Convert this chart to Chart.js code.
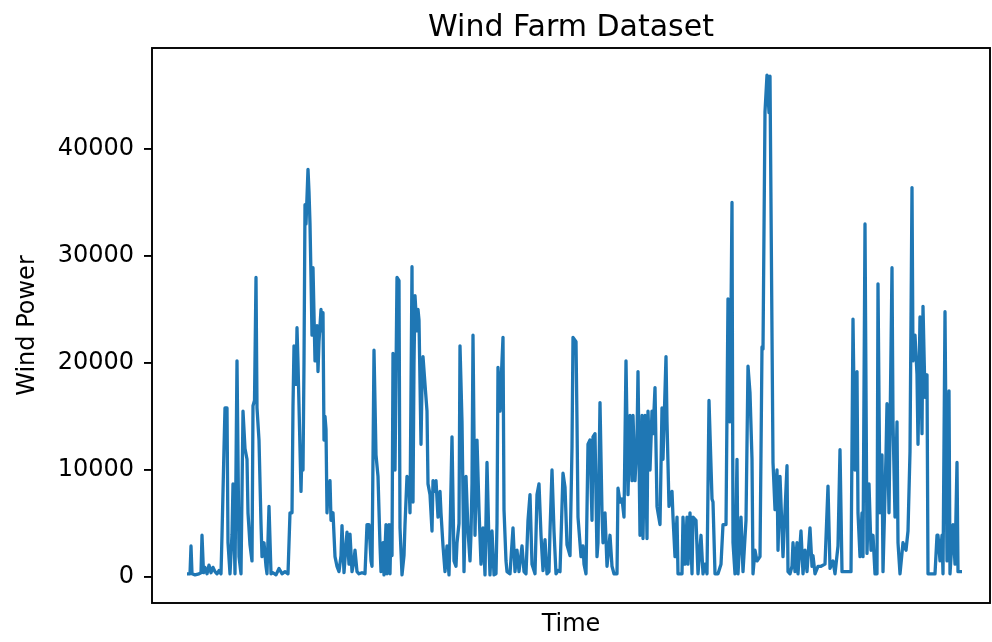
<!DOCTYPE html>
<html>
<head>
<meta charset="utf-8">
<script src="https://cdn.jsdelivr.net/npm/chart.js@4.4.0/dist/chart.umd.min.js"></script>
<style>
  html, body { margin: 0; padding: 0; background: #fff; }
</style>
</head>
<body>
<canvas id="windChart" width="992" height="642"></canvas>
<script>
// time step (hours from the start) and measured wind power
const timeSteps = [
  0, 3, 4, 5, 8, 12, 14, 15, 16.5, 18, 20, 22, 24, 26, 28, 30, 32, 34, 35, 37, 38, 40, 41, 43,
  45, 46, 48, 50, 52, 54, 56, 58, 60, 61, 63, 65, 66, 67.5, 69, 70, 72, 74, 75, 77, 79, 80, 82,
  84, 86, 89, 92, 95, 98, 101, 103, 105, 106, 107, 109, 110, 111, 112, 114, 115, 116, 117,
  118, 119, 120, 121, 122, 123, 124, 125, 126, 128, 129, 130, 131, 132, 134, 135, 136, 137, 138, 139, 140, 141, 143, 144,
  146, 148, 150, 152, 154, 155, 157, 159, 160, 162, 163, 165, 167, 168, 170, 172, 175, 178, 180,
  182, 184, 185, 187, 189, 191, 193, 194, 195, 196, 197, 199, 200, 202, 203, 204, 205, 206, 208, 210, 212,
  213, 215, 217, 218, 220, 222, 223, 225, 226, 227, 228, 230, 231, 232, 234, 235, 236, 238, 240, 241, 243, 245, 246,
  248, 249, 251, 253, 254, 256, 258, 260, 262, 263, 265, 267, 269, 270, 272, 273, 275, 277, 279, 281, 283, 284, 285, 286,
  288, 290, 292, 294, 296, 298, 300, 302, 303, 305, 307, 309, 310, 311, 313, 314, 316, 317, 319, 320,
  323, 326, 328, 330, 332, 335, 337, 339, 341, 343, 345, 348, 350, 352, 354, 356, 358, 360, 362, 363,
  365, 367, 369, 371, 373, 376, 378, 380, 383, 385, 386, 389, 390, 391,
  394, 396, 397, 399, 401, 403, 405, 406, 408, 410, 411, 413, 415, 416, 418, 420,
  423, 425, 427, 430, 431, 433, 435, 437, 439, 441, 443, 445, 446, 448, 450, 451, 453,
  455, 456, 458, 460, 461, 463, 465, 466, 468, 470, 471, 473, 475, 476, 479, 480, 482,
  485, 486, 488, 490, 491, 495, 496, 498, 500, 501, 503, 505, 506, 509, 511, 514, 516, 518, 520,
  522, 525, 526, 528, 531, 534, 536, 539, 541, 543, 545, 546, 548, 550, 551, 554, 556,
  559, 561, 563, 565, 566, 568, 570, 573, 575, 576, 578, 580, 582, 583,
  586, 588, 590, 591, 593, 596, 600, 601, 603, 605, 606, 608, 610, 611, 614,
  616, 618, 620, 623, 625, 626, 628, 631, 634, 638, 641, 643, 646, 648, 651, 653,
  655, 658, 661, 664, 666, 668, 670, 671, 673, 675, 676, 678, 680, 682,
  684, 686, 688, 690, 691, 693, 695, 696, 699, 700, 702, 705, 706, 708, 710, 711, 713,
  716, 719, 721, 723, 725, 726, 728, 730, 731, 733, 735, 736, 738, 740, 741,
  745, 748, 750, 751, 753, 755, 756, 758, 760, 762, 763, 766, 768, 770, 771, 773, 775
];
const windPower = [
  300, 300, 2900, 300, 200, 300, 400, 3900, 400, 900, 300, 1100, 400, 900, 500, 300, 600, 300, 3900, 12000, 15800, 15800, 3200, 300,
  4000, 8700, 300, 20200, 1900, 300, 15500, 12000, 11000, 6000, 3000, 1500, 16000, 16500, 28000, 15800, 12800, 5000, 1900, 3200, 1000, 300, 6600,
  300, 400, 200, 800, 300, 500, 300, 6000, 6000, 16000, 21600, 18000, 23300, 20000, 16000, 8000, 12000, 10000, 20000,
  34800, 33000, 35500, 38100, 36000, 33000, 28000, 22600, 28900, 20200, 22000, 23500, 19200, 22000, 25000, 23000, 24700, 12800, 15000, 13800, 6000, 8000, 9000, 5300,
  6000, 1900, 1000, 500, 2000, 4800, 400, 3000, 4200, 1200, 4000, 500, 1500, 2500, 500, 300, 400, 300, 4900,
  4900, 1500, 1000, 21200, 11400, 9400, 3000, 500, 1500, 3200, 200, 4900, 300, 4900, 300, 4900, 2000, 20900, 10000, 28000, 27700,
  4600, 200, 2000, 4900, 9400, 9000, 6000, 29000, 7000, 20000, 26300, 23000, 25000, 24000, 12400, 18000, 20600, 18000, 15500, 8700, 7700, 4300, 9000,
  8000, 9000, 5600, 8000, 6000, 2900, 500, 2900, 200, 4000, 13100, 1500, 1000, 3200, 5000, 21600, 14500, 500, 9400, 4300, 1500, 4000, 8700, 22600,
  3900, 12800, 6300, 1200, 4600, 200, 10700, 3000, 200, 4300, 200, 300, 5000, 19600, 15500, 18000, 22400, 6300, 1500, 500,
  300, 4600, 500, 2500, 500, 2900, 500, 300, 5300, 7700, 1200, 300, 7700, 8700, 3900, 600, 3500, 300, 500, 4300,
  10000, 4300, 300, 600, 500, 9700, 8400, 3000, 2000, 12100, 22400, 22000, 14500, 5600,
  1900, 2900, 1200, 300, 12400, 12800, 5300, 13100, 13400, 1900, 3200, 16300, 6000, 3200, 6000, 1000,
  3900, 1000, 300, 300, 8300, 7000, 7300, 5600, 20200, 7700, 15100, 9000, 15100, 9000, 12800, 19200, 3900,
  15100, 3600, 15100, 3600, 15500, 10000, 15500, 13400, 17700, 6600, 6000, 4900, 15800, 11000, 20600, 14500, 6600,
  8000, 5600, 1900, 5600, 300, 300, 5600, 1200, 5600, 1200, 6000, 300, 5600, 5300, 300, 3900, 300, 1200, 300,
  16500, 7300, 7000, 300, 300, 1200, 4900, 4900, 26000, 14500, 35000, 3200, 300, 11000, 300, 5600, 500,
  5300, 19700, 17200, 11000, 300, 2500, 1500, 1900, 21500, 21300, 43500, 46900, 43400, 46800,
  10700, 6300, 10000, 2500, 9400, 1900, 10400, 500, 300, 1000, 3200, 500, 3200, 300, 4300,
  300, 2500, 500, 4600, 1000, 2000, 300, 1000, 1000, 1200, 8500, 800, 1500, 300, 2900, 11900,
  500, 500, 500, 500, 24100, 10000, 19200, 6000, 1900, 6000, 1900, 33000, 2200, 8700,
  2500, 3900, 300, 300, 27400, 6000, 11400, 500, 11400, 16200, 6000, 28900, 14500, 5600, 14500, 3200, 300,
  3200, 2500, 4300, 11700, 36400, 20200, 22600, 18900, 12400, 24300, 13400, 25300, 16800, 18900, 300,
  300, 300, 3900, 3900, 1500, 3900, 300, 24800, 1500, 17400, 300, 4900, 1200, 10700, 500, 500, 500
];
const yTicks = [0, 10000, 20000, 30000, 40000];

const FONT = "'DejaVu Sans', sans-serif";

// draws the axes box (matplotlib style spines)
const frame = {
  id: "frame",
  afterDraw(chart) {
    const { ctx, chartArea: a } = chart;
    ctx.save();
    ctx.strokeStyle = "#000";
    ctx.lineWidth = 1.9;
    ctx.strokeRect(a.left, a.top, a.right - a.left, a.bottom - a.top);
    ctx.restore();
  }
};

new Chart(document.getElementById("windChart"), {
  type: "line",
  data: {
    datasets: [{
      data: timeSteps.map((t, i) => ({ x: t, y: windPower[i] })),
      borderColor: "#1f77b4",
      borderWidth: 3.3,
      borderJoinStyle: "round",
      pointRadius: 0,
      tension: 0,
      fill: false
    }]
  },
  options: {
    responsive: false,
    animation: false,
    devicePixelRatio: 1,
    layout: { padding: { left: 0, right: 2, top: 0, bottom: 0 } },
    plugins: {
      legend: { display: false },
      tooltip: { enabled: false },
      title: {
        display: true,
        fullSize: false,
        text: "Wind Farm Dataset",
        color: "#000",
        font: { family: FONT, size: 30, weight: "normal", lineHeight: 1.2 },
        padding: { top: 10, bottom: 2 }
      }
    },
    scales: {
      x: {
        type: "linear",
        min: -35,
        max: 803,
        grid: { display: false },
        border: { display: false },
        ticks: { display: false },
        title: {
          display: true,
          text: "Time",
          color: "#000",
          font: { family: FONT, size: 24, lineHeight: 1.2 },
          padding: { top: 0, bottom: 3 }
        },
        afterFit(scale) { scale.height = 39; }
      },
      y: {
        min: -2430,
        max: 49440,
        afterBuildTicks(scale) { scale.ticks = yTicks.map(v => ({ value: v })); },
        grid: {
          drawOnChartArea: false,
          drawTicks: true,
          tickLength: 8,
          tickColor: "#000",
          lineWidth: 1.9
        },
        border: { display: false },
        ticks: {
          color: "#000",
          padding: 10,
          font: { family: FONT, size: 24 },
          callback: v => String(v)
        },
        title: {
          display: true,
          text: "Wind Power",
          color: "#000",
          font: { family: FONT, size: 24, lineHeight: 1.2 },
          padding: { top: 13, bottom: 0 }
        },
        afterFit(scale) { scale.width = 152; }
      }
    }
  },
  plugins: [frame]
});
</script>
</body>
</html>
